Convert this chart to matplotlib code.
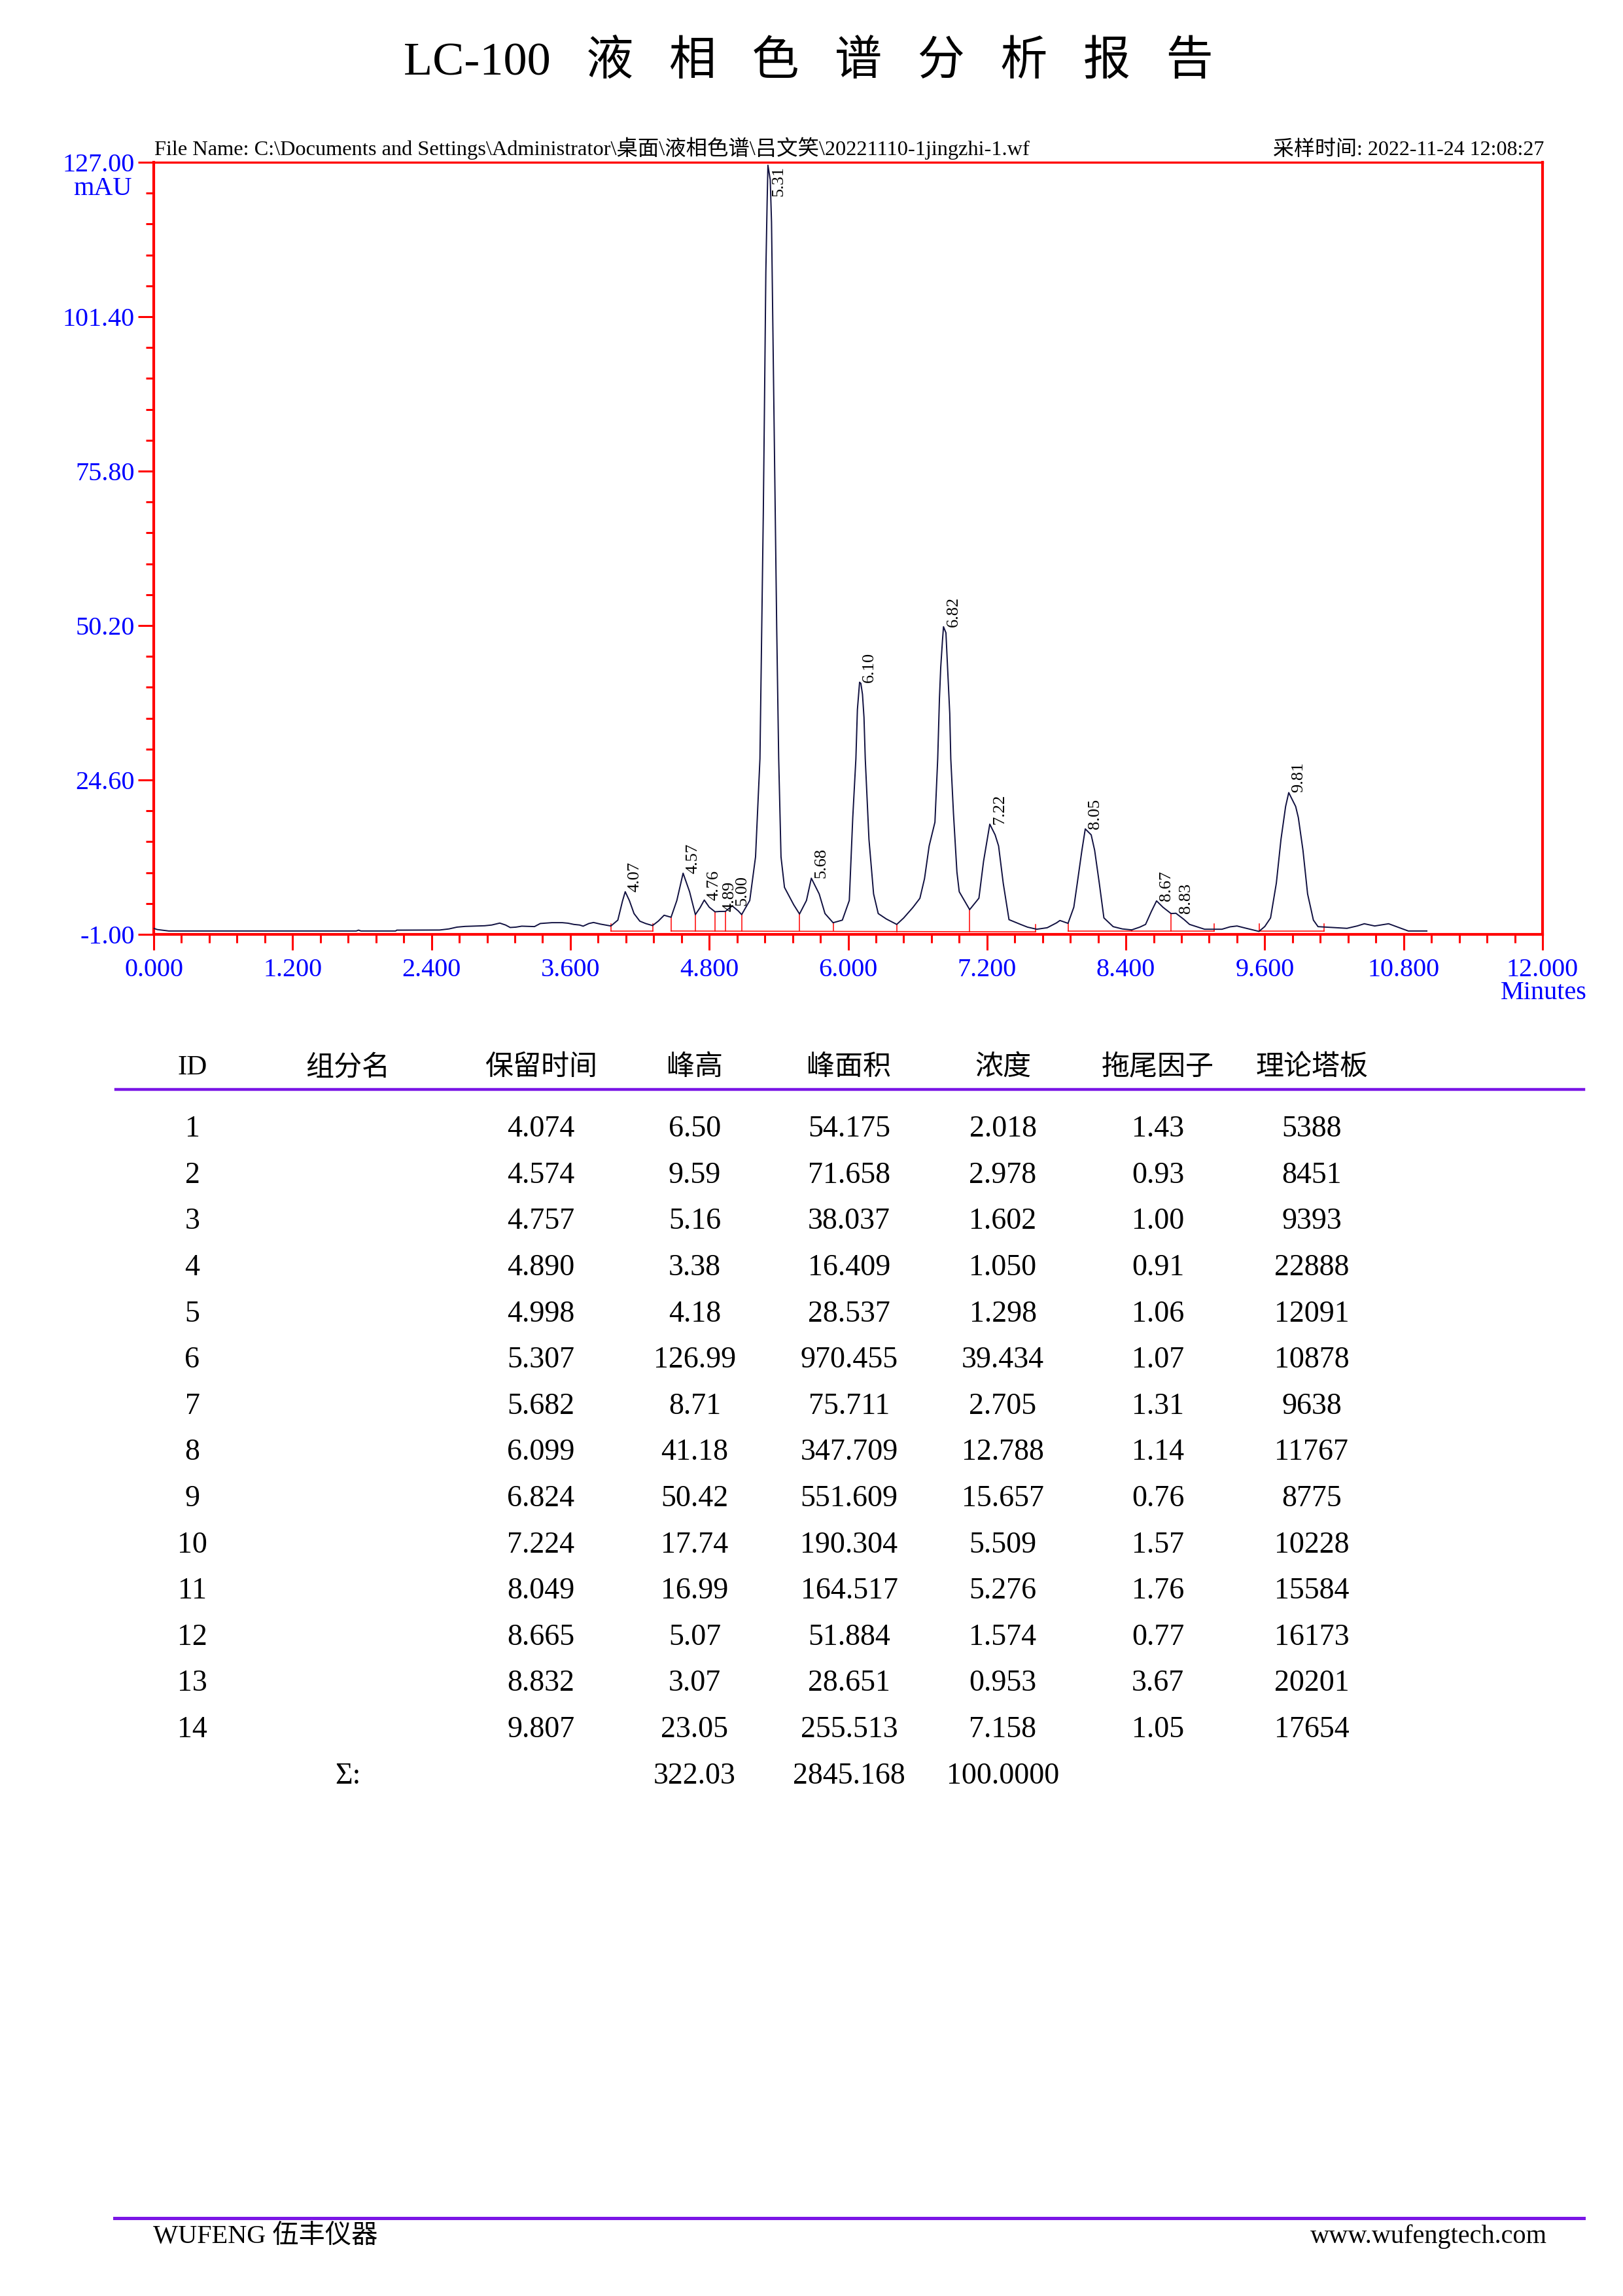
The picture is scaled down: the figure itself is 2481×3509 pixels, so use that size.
import numpy as np
import matplotlib
matplotlib.use('Agg')
import matplotlib.pyplot as plt
from matplotlib.ticker import FixedLocator, FormatStrFormatter

plt.rcParams['font.family'] = ['Liberation Serif', 'Noto Sans CJK SC']

# 色谱曲线 (时间 min, 信号 mAU)
trace_t = [0.00, 0.03, 0.13, 1.75, 1.77, 1.79, 2.09, 2.10, 2.47, 2.55, 2.62, 2.69,
           2.86, 2.92, 2.99, 3.04, 3.08, 3.13, 3.18, 3.29, 3.34, 3.44, 3.53, 3.58,
           3.63, 3.68, 3.71, 3.76, 3.80, 3.86, 3.95, 4.01, 4.05, 4.074, 4.11, 4.15,
           4.20, 4.25, 4.31, 4.36, 4.41, 4.47, 4.52, 4.574, 4.63, 4.68, 4.72, 4.757,
           4.80, 4.85, 4.89, 4.94, 4.998, 5.05, 5.08, 5.15, 5.20, 5.238, 5.248, 5.257,
           5.267, 5.276, 5.289, 5.300, 5.307, 5.327, 5.338, 5.352, 5.370, 5.383, 5.40,
           5.42, 5.45, 5.53, 5.58, 5.64, 5.682, 5.75, 5.80, 5.87, 5.95, 6.01, 6.04,
           6.067, 6.08, 6.099, 6.11, 6.124, 6.137, 6.148, 6.18, 6.22, 6.26, 6.33, 6.42,
           6.48, 6.56, 6.62, 6.66, 6.70, 6.75, 6.774, 6.789, 6.80, 6.815, 6.824, 6.845,
           6.859, 6.878, 6.887, 6.91, 6.94, 6.96, 7.05, 7.13, 7.17, 7.224, 7.27, 7.30,
           7.34, 7.39, 7.49, 7.55, 7.63, 7.72, 7.80, 7.83, 7.90, 7.95, 7.98, 8.02,
           8.049, 8.10, 8.13, 8.17, 8.21, 8.29, 8.37, 8.45, 8.52, 8.57, 8.62, 8.665,
           8.72, 8.79, 8.832, 8.90, 8.95, 9.08, 9.23, 9.30, 9.36, 9.42, 9.55, 9.60,
           9.65, 9.70, 9.74, 9.78, 9.807, 9.867, 9.89, 9.93, 9.97, 10.02, 10.06, 10.31,
           10.40, 10.46, 10.55, 10.62, 10.67, 10.75, 10.84, 11.00]
trace_v = [0.00, -0.20, -0.44, -0.44, -0.30, -0.44, -0.44, -0.30, -0.28, -0.10, 0.20, 0.32,
           0.43, 0.55, 0.87, 0.55, 0.14, 0.20, 0.36, 0.29, 0.80, 0.94, 0.94, 0.85,
           0.65, 0.55, 0.36, 0.80, 0.97, 0.70, 0.39, 1.36, 4.50, 6.07, 4.60, 2.45,
           1.19, 0.80, 0.46, 1.20, 2.17, 1.84, 4.62, 9.14, 6.07, 2.28, 3.40, 4.69,
           3.50, 2.74, 2.80, 2.81, 3.72, 2.90, 2.28, 4.62, 11.85, 28.1, 42.0, 54.1,
           68.7, 84.6, 108.8, 120.3, 126.5, 124.1, 117.1, 96.1, 68.7, 49.6, 28.1,
           11.85, 6.79, 3.90, 2.38, 4.62, 8.31, 5.70, 2.45, 0.93, 1.36, 4.62, 18.36,
           28.1, 36.25, 40.8, 40.6, 38.8, 34.98, 28.1, 14.75, 5.70, 2.45, 1.55, 0.65,
           1.72, 3.47, 4.98, 8.24, 13.66, 17.6, 28.1, 38.15, 43.25, 47.7, 50.0, 49.0,
           43.25, 35.6, 28.1, 19.1, 9.33, 6.07, 3.10, 5.00, 11.1, 17.27, 15.5, 13.66,
           7.50, 1.44, 0.65, 0.20, -0.15, 0.10, 0.90, 1.30, 0.83, 3.50, 7.50, 12.94,
           16.48, 15.5, 12.94, 7.50, 1.73, 0.28, -0.10, -0.26, 0.20, 0.65, 2.80, 4.55,
           3.50, 2.45, 2.50, 1.50, 0.65, -0.15, -0.15, 0.25, 0.39, 0.10, -0.51, 0.30,
           1.73, 7.50, 14.75, 20.2, 22.5, 20.2, 18.36, 12.94, 5.70, 1.37, 0.28, 0.00,
           0.40, 0.76, 0.39, 0.60, 0.76, 0.20, -0.44, -0.44]

# 积分基线
bl_start = [3.95, 4.47, 7.90, 9.55]
bl_end = [4.31, 7.62, 9.16, 10.11]
bl_v0 = [-0.44, -0.44, -0.48, -0.48]
bl_v1 = [-0.44, -0.58, -0.48, -0.48]
drop_t = [4.68, 4.85, 4.94, 5.08, 5.58, 5.87, 6.42, 7.05, 8.45, 8.79]

# 峰表
peak_id = list(range(1, 15))
rt = [4.074, 4.574, 4.757, 4.890, 4.998, 5.307, 5.682, 6.099, 6.824, 7.224,
      8.049, 8.665, 8.832, 9.807]
peak_label = ['4.07', '4.57', '4.76', '4.89', '5.00', '5.31', '5.68', '6.10', '6.82',
              '7.22', '8.05', '8.67', '8.83', '9.81']
height = [6.50, 9.59, 5.16, 3.38, 4.18, 126.99, 8.71, 41.18, 50.42, 17.74,
          16.99, 5.07, 3.07, 23.05]
area = [54.175, 71.658, 38.037, 16.409, 28.537, 970.455, 75.711, 347.709,
        551.609, 190.304, 164.517, 51.884, 28.651, 255.513]
conc = [2.018, 2.978, 1.602, 1.050, 1.298, 39.434, 2.705, 12.788, 15.657,
        5.509, 5.276, 1.574, 0.953, 7.158]
tailing = [1.43, 0.93, 1.00, 0.91, 1.06, 1.07, 1.31, 1.14, 0.76, 1.57,
           1.76, 0.77, 3.67, 1.05]
plates = [5388, 8451, 9393, 22888, 12091, 10878, 9638, 11767, 8775, 10228,
          15584, 16173, 20201, 17654]
headers = ['ID', '组分名', '保留时间', '峰高', '峰面积', '浓度', '拖尾因子', '理论塔板']
sum_height = '322.03'
sum_area = '2845.168'
sum_conc = '100.0000'

W, H = 2481, 3509
fig = plt.figure(figsize=(W / 100, H / 100), dpi=100)

def fx(px):
    return px / W

def fy(py):
    return 1 - py / H

red = '#FF0000'
blue = '#0000FF'
purple = '#7A16E6'

# 标题
fig.text(fx(1236), fy(95), 'LC-100   液   相   色   谱   分   析   报   告',
         ha='center', va='center', fontsize=52)

# 色谱图
ax = fig.add_axes([fx(235), fy(1428), fx(2358) - fx(235), (1428 - 248) / H])
ax.plot(trace_t, trace_v, color='#101040', lw=1.4, zorder=3)
ax.set_xlim(0, 12)
ax.set_ylim(-1, 127)

for i in range(len(bl_start)):
    ax.plot([bl_start[i], bl_end[i]], [bl_v0[i], bl_v1[i]], color=red, lw=1.1, zorder=2)
    for t0, b0 in [(bl_start[i], bl_v0[i]), (bl_end[i], bl_v1[i])]:
        top = max(np.interp(t0, trace_t, trace_v), b0 + 1.2)
        ax.plot([t0, t0], [b0, top], color=red, lw=1.1, zorder=2)
for t0 in drop_t:
    k = [i for i in range(len(bl_start)) if bl_start[i] <= t0 <= bl_end[i]][0]
    b0 = np.interp(t0, [bl_start[k], bl_end[k]], [bl_v0[k], bl_v1[k]])
    ax.plot([t0, t0], [b0, np.interp(t0, trace_t, trace_v)], color=red, lw=1.1, zorder=2)

# 峰标签
for t0, lab in zip(rt, peak_label):
    v0 = np.interp(t0, trace_t, trace_v)
    if v0 > 100:
        ax.annotate(lab, (t0, v0), xytext=(4, -1), textcoords='offset points',
                    rotation=90, ha='left', va='top', fontsize=19)
    else:
        ax.annotate(lab, (t0, v0), xytext=(3, 0), textcoords='offset points',
                    rotation=90, ha='left', va='bottom', fontsize=19)

for s in ax.spines.values():
    s.set_color(red)
    s.set_linewidth(3)
ax.spines['top'].set_linewidth(2.4)

ax.xaxis.set_major_locator(FixedLocator(np.arange(0, 12.001, 1.2)))
ax.xaxis.set_minor_locator(FixedLocator(np.arange(0, 12.001, 0.24)))
ax.yaxis.set_major_locator(FixedLocator(np.arange(-1, 127.01, 25.6)))
ax.yaxis.set_minor_locator(FixedLocator(np.arange(-1, 127.01, 5.12)))
ax.xaxis.set_major_formatter(FormatStrFormatter('%.3f'))
ax.yaxis.set_major_formatter(FormatStrFormatter('%.2f'))
ax.tick_params(which='major', direction='out', length=17, width=2.2, color=red,
               labelcolor=blue, labelsize=29)
ax.tick_params(which='minor', direction='out', length=9, width=2.2, color=red)
ax.tick_params(axis='x', which='major', pad=9)
ax.tick_params(axis='y', which='major', pad=4)

fig.text(fx(202), fy(288), 'mAU', ha='right', va='center', color=blue, fontsize=29)
fig.text(fx(2360), fy(1517), 'Minutes', ha='center', va='center', color=blue, fontsize=29)

fig.text(fx(236), fy(244),
         'File Name: C:\\Documents and Settings\\Administrator\\桌面\\液相色谱\\吕文笑\\20221110-1jingzhi-1.wf',
         ha='left', va='bottom', fontsize=23.3)
fig.text(fx(2360), fy(244), '采样时间: 2022-11-24 12:08:27',
         ha='right', va='bottom', fontsize=23)

# 峰表
col_x = [294, 532, 827, 1062, 1298, 1533, 1770, 2005]
for x, h in zip(col_x, headers):
    fig.text(fx(x), fy(1632), h, ha='center', va='center', fontsize=31)
fig.add_artist(plt.Line2D([fx(177), fx(2421)], [fy(1665), fy(1665)],
                          color=purple, lw=3.2))

row_y0, row_dy = 1726, 70.6
for i in range(len(peak_id)):
    y = fy(row_y0 + i * row_dy)
    vals = [str(peak_id[i]), '', '%.3f' % rt[i], '%.2f' % height[i], '%.3f' % area[i],
            '%.3f' % conc[i], '%.2f' % tailing[i], str(plates[i])]
    for x, v in zip(col_x, vals):
        fig.text(fx(x), y, v, ha='center', va='center', fontsize=33)
y = fy(row_y0 + 14 * row_dy)
fig.text(fx(col_x[1]), y, 'Σ:', ha='center', va='center', fontsize=33)
fig.text(fx(col_x[3]), y, sum_height, ha='center', va='center', fontsize=33)
fig.text(fx(col_x[4]), y, sum_area, ha='center', va='center', fontsize=33)
fig.text(fx(col_x[5]), y, sum_conc, ha='center', va='center', fontsize=33)

# 页脚
fig.add_artist(plt.Line2D([fx(175), fx(2421)], [fy(3390), fy(3390)],
                          color=purple, lw=3.6))
fig.text(fx(234), fy(3418), 'WUFENG 伍丰仪器', ha='left', va='center', fontsize=29)
fig.text(fx(2365), fy(3418), 'www.wufengtech.com', ha='right', va='center', fontsize=29)

fig.savefig('out.png', dpi=100, facecolor='white')
